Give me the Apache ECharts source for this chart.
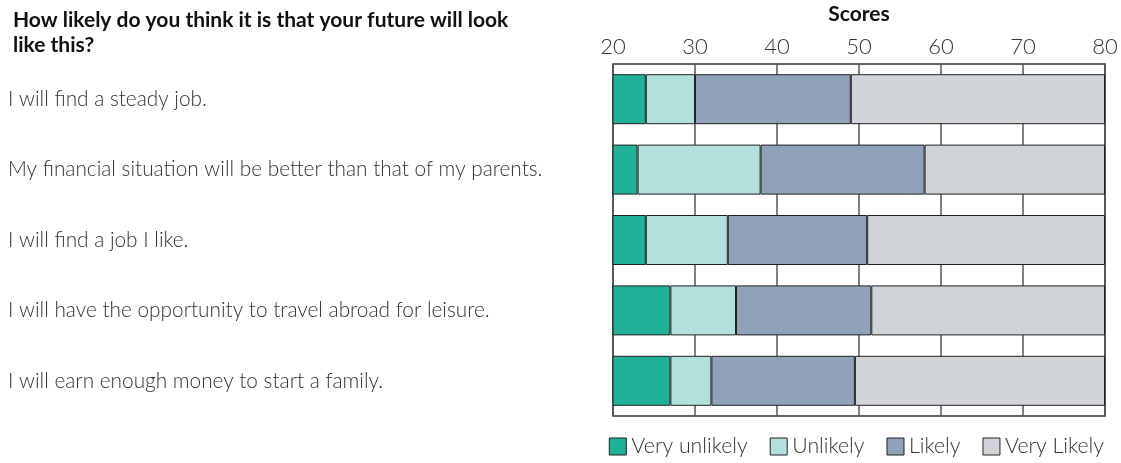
<!DOCTYPE html>
<html>
<head>
<meta charset="utf-8">
<script src="https://cdn.jsdelivr.net/npm/echarts@6/dist/echarts.min.js"></script>
<style>
  html, body { margin: 0; padding: 0; background: #fff; }
  #chart { width: 1121px; height: 463px; }
</style>
</head>
<body>
<div id="chart"></div>
<script>
// statements, top to bottom
var statements = [
    'I will find a steady job.',
    'My financial situation will be better than that of my parents.',
    'I will find a job I like.',
    'I will have the opportunity to travel abroad for leisure.',
    'I will earn enough money to start a family.'
];

// stacked segments, cumulative sum reaches 80 for each row
var veryUnlikely = [24, 23, 24, 27, 27];
var unlikely     = [6, 15, 10, 8, 5];
var likely       = [19, 20, 17, 16.5, 17.5];
var veryLikely   = [31, 22, 29, 28.5, 30.5];

var seriesNames  = ['Very unlikely', 'Unlikely', 'Likely', 'Very Likely'];
var seriesColors = ['#21b098', '#b2e0dc', '#90a2ba', '#d0d3d8'];
var seriesData   = [veryUnlikely, unlikely, likely, veryLikely];

var chart = echarts.init(document.getElementById('chart'));

var series = seriesNames.map(function (name, i) {
    return {
        name: name,
        type: 'bar',
        stack: 'total',
        barWidth: 50,
        data: seriesData[i],
        itemStyle: {
            color: seriesColors[i],
            borderColor: '#222',
            borderWidth: 1
        }
    };
});

var option = {
    textStyle: { fontFamily: 'Lato' },
    title: {
        text: 'How likely do you think it is that your future will look\nlike this?',
        left: 8,
        top: 3,
        textStyle: {
            fontFamily: 'Lato',
            fontWeight: 'bold',
            fontSize: 21,
            lineHeight: 25,
            color: '#111'
        }
    },
    legend: {
        data: seriesNames,
        right: 12,
        bottom: 1,
        itemWidth: 17,
        itemHeight: 17,
        itemGap: 22,
        icon: 'rect',
        itemStyle: { borderColor: '#222', borderWidth: 1 },
        textStyle: {
            fontFamily: 'Lato',
            fontWeight: 300,
            fontSize: 21.3,
            color: '#333'
        }
    },
    grid: {
        left: 613,
        right: 16,
        top: 64,
        bottom: 47,
        outerBoundsMode: 'none',
        show: true,
        borderColor: '#333',
        borderWidth: 1.5
    },
    xAxis: {
        type: 'value',
        position: 'top',
        min: 20,
        max: 80,
        interval: 10,
        name: 'Scores',
        nameLocation: 'middle',
        nameGap: 39,
        nameTextStyle: {
            fontFamily: 'Lato',
            fontWeight: 'bold',
            fontSize: 21,
            color: '#111'
        },
        axisLine: { show: false },
        axisTick: { show: false },
        axisLabel: {
            margin: 6,
            fontFamily: 'Lato',
            fontWeight: 300,
            fontSize: 22,
            color: '#333'
        },
        splitLine: { show: true, lineStyle: { color: '#555', width: 1.5 } }
    },
    yAxis: {
        type: 'category',
        inverse: true,
        data: statements,
        axisLine: { show: false },
        axisTick: { show: false },
        axisLabel: {
            align: 'left',
            margin: 605,
            fontFamily: 'Lato',
            fontWeight: 300,
            fontSize: 20.8,
            color: '#333'
        }
    },
    series: series
};

chart.setOption(option);
</script>
</body>
</html>
